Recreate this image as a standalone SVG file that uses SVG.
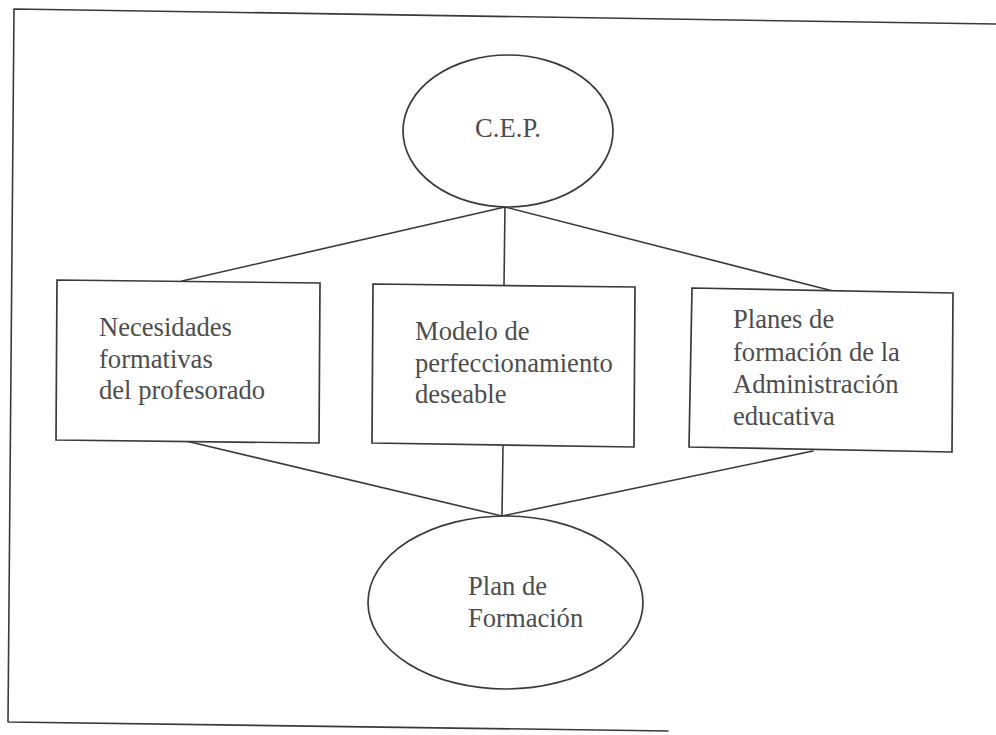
<svg xmlns="http://www.w3.org/2000/svg" width="996" height="735" viewBox="0 0 996 735">
<style>
.ln{stroke:#3a3a3a;stroke-width:1.6;fill:none;stroke-linecap:round;stroke-linejoin:round}
.shp{stroke:#3a3a3a;stroke-width:1.7;fill:#fff}
.t{font-family:"Liberation Serif","Times New Roman",serif;font-size:26.6px;fill:#4d4d4d}
</style>
<rect x="0" y="0" width="996" height="735" fill="#fff"/>
<g id="frame">
<path class="ln" d="M996,24 L14,9 L8,722 L668,731"/>
</g>
<g id="connectors">
<line class="ln" x1="505" y1="207" x2="182" y2="281"/>
<line class="ln" x1="505" y1="207" x2="504" y2="285"/>
<line class="ln" x1="505" y1="207" x2="833" y2="291"/>
<line class="ln" x1="186" y1="441" x2="502" y2="516"/>
<line class="ln" x1="503" y1="446" x2="502" y2="516"/>
<line class="ln" x1="813" y1="451" x2="502" y2="516"/>
</g>
<g id="cep">
<ellipse class="shp" cx="508" cy="131" rx="105" ry="76"/>
<text class="t" x="508" y="137" text-anchor="middle">C.E.P.</text>
</g>
<g id="necesidades">
<polygon class="shp" points="57,280 320,283 319,443 56,440"/>
<text class="t" x="99" y="336">Necesidades</text>
<text class="t" x="99" y="368">formativas</text>
<text class="t" x="99" y="399">del profesorado</text>
</g>
<g id="modelo">
<polygon class="shp" points="373,284 635,287 634,447 372,443"/>
<text class="t" x="415" y="340">Modelo de</text>
<text class="t" x="415" y="372">perfeccionamiento</text>
<text class="t" x="415" y="403">deseable</text>
</g>
<g id="planes">
<polygon class="shp" points="692,288 953,293 952,452 689,447"/>
<text class="t" x="733" y="328">Planes de</text>
<text class="t" x="733" y="361">formación de la</text>
<text class="t" x="733" y="393">Administración</text>
<text class="t" x="733" y="425">educativa</text>
</g>
<g id="plan">
<ellipse class="shp" cx="505.5" cy="602.5" rx="137.5" ry="86.5"/>
<text class="t" x="468" y="595">Plan de</text>
<text class="t" x="468" y="627">Formación</text>
</g>
</svg>
